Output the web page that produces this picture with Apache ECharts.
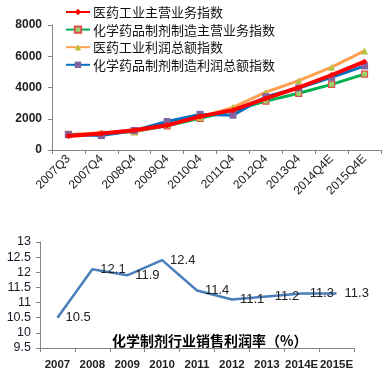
<!DOCTYPE html>
<html>
<head>
<meta charset="utf-8">
<script src="https://cdn.jsdelivr.net/npm/echarts@6/dist/echarts.min.js"></script>
<style>
html,body{margin:0;padding:0;background:#fff;}
#c{width:388px;height:385px;}
</style>
</head>
<body>
<div id="c"></div>
<script>
var quarters = ['2007Q3','2007Q4','2008Q4','2009Q4','2010Q4','2011Q4','2012Q4','2013Q4','2014Q4E','2015Q4E'];
var pharmaRevenue = [900, 1050, 1270, 1580, 2150, 2550, 3300, 4000, 4800, 5650];
var chemRevenue = [1000, 1000, 1180, 1550, 2030, 2520, 3130, 3630, 4200, 4860];
var pharmaProfit = [1000, 1100, 1170, 1650, 2100, 2730, 3700, 4440, 5300, 6340];
var chemProfit = [980, 920, 1250, 1820, 2280, 2230, 3410, 3970, 4650, 5380];
var topNames = ['医药工业主营业务指数','化学药品制剂制造主营业务指数','医药工业利润总额指数','化学药品制剂制造利润总额指数'];
var topTicks = [0, 2000, 4000, 6000, 8000];

var years = ['2007','2008','2009','2010','2011','2012','2013','2014E','2015E'];
var margin = [10.5, 12.1, 11.9, 12.4, 11.4, 11.1, 11.2, 11.3, 11.3];
var bottomTitle = '化学制剂行业销售利润率（%）';

var FONT = 'Liberation Sans, Arial, Noto Sans CJK SC, sans-serif';
var chart = echarts.init(document.getElementById('c'));
var axisLine = {show:true, lineStyle:{color:'#868686', width:1}};
var axisTick = {show:true, lineStyle:{color:'#868686'}, length:4};

chart.setOption({
  animation:false,
  textStyle:{fontFamily:FONT},
  title:{
    text:bottomTitle,
    left:107, top:329,
    textStyle:{fontSize:14, fontWeight:'bold', color:'#000', fontFamily:'Noto Sans CJK SC, sans-serif'}
  },
  legend:{
    orient:'vertical', left:60, top:0,
    itemWidth:24, itemHeight:8, itemGap:3.6,
    data:topNames,
    textStyle:{fontSize:13, lineHeight:14, color:'#111', fontFamily:'Noto Sans CJK SC, sans-serif', padding:[0,0,0,-2]}
  },
  grid:[
    {left:52, right:7, top:25, height:125},
    {left:40, right:34, top:242, height:106}
  ],
  xAxis:[
    {type:'category', gridIndex:0, data:quarters, boundaryGap:true,
     axisLine:axisLine, axisTick:axisTick,
     axisLabel:{rotate:45, fontSize:12, color:'#222', interval:0, margin:7}},
    {type:'category', gridIndex:1, data:years, boundaryGap:true,
     axisLine:axisLine, axisTick:axisTick,
     axisLabel:{fontSize:11.5, fontWeight:'bold', color:'#222', interval:0, margin:11}}
  ],
  yAxis:[
    {type:'value', gridIndex:0, min:topTicks[0], max:topTicks[topTicks.length-1], interval:2000,
     axisLine:axisLine, axisTick:axisTick, splitLine:{show:false},
     axisLabel:{fontSize:12, fontWeight:'bold', color:'#222', margin:10, formatter:function(v){return String(v);}}},
    {type:'value', gridIndex:1, min:9.5, max:13, interval:0.5,
     axisLine:axisLine, axisTick:axisTick, splitLine:{show:false},
     axisLabel:{fontSize:12.5, color:'#1a1a2a', margin:9}}
  ],
  series:[
    {name:topNames[0], type:'line', xAxisIndex:0, yAxisIndex:0, data:pharmaRevenue, z:5,
     lineStyle:{color:'#ff0000', width:4}, itemStyle:{color:'#ff0000'},
     symbol:'diamond', symbolSize:6},
    {name:topNames[1], type:'line', xAxisIndex:0, yAxisIndex:0, data:chemRevenue, z:2,
     lineStyle:{color:'#00b050', width:3}, itemStyle:{color:'#9bd46a', borderColor:'#e05050', borderWidth:1.2},
     symbol:'rect', symbolSize:6},
    {name:topNames[2], type:'line', xAxisIndex:0, yAxisIndex:0, data:pharmaProfit, z:3,
     lineStyle:{color:'#ffa050', width:3}, itemStyle:{color:'#b8c040'},
     symbol:'triangle', symbolSize:7},
    {name:topNames[3], type:'line', xAxisIndex:0, yAxisIndex:0, data:chemProfit, z:4,
     lineStyle:{color:'#0070c0', width:3}, itemStyle:{color:'#8064a2'},
     symbol:'rect', symbolSize:7},
    {name:'利润率', type:'line', xAxisIndex:1, yAxisIndex:1, data:margin,
     lineStyle:{color:'#4a7ebb', width:2.5}, itemStyle:{color:'rgba(0,0,0,0)', borderWidth:0},
     symbol:'circle', symbolSize:2, showSymbol:true, labelLayout:{hideOverlap:false},
     label:{show:true, position:'right', distance:7, fontSize:13, color:'#222'}}
  ]
});
</script>
</body>
</html>
